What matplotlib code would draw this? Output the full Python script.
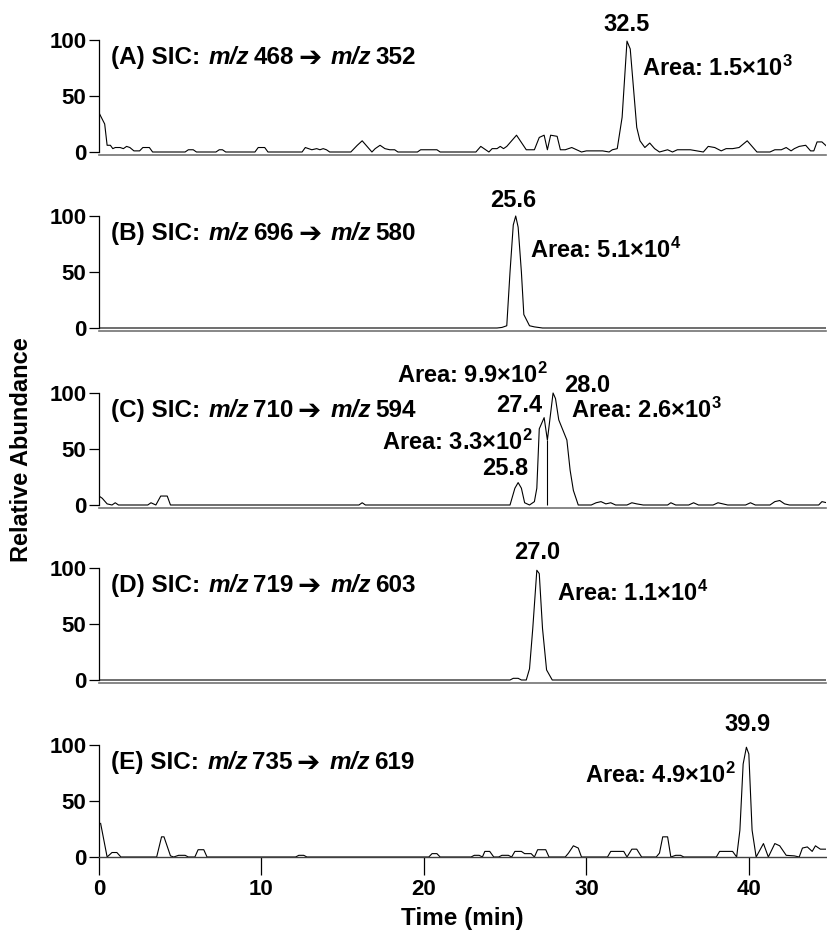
import matplotlib
matplotlib.use("Agg")
import matplotlib.pyplot as plt

plt.rcParams['font.family'] = ['Liberation Sans', 'DejaVu Sans']
plt.rcParams['font.weight'] = 'bold'
plt.rcParams['mathtext.fontset'] = 'custom'
plt.rcParams['mathtext.rm'] = 'Liberation Sans:bold'
plt.rcParams['mathtext.it'] = 'Liberation Sans:italic:bold'
plt.rcParams['mathtext.bf'] = 'Liberation Sans:bold'

# chromatogram traces (time in min, relative abundance)
a_t = [0, 0.35, 0.5, 0.7, 0.85, 1.0, 1.3, 1.5, 1.7, 1.9, 2.15, 2.5, 2.7, 3.1, 3.3,
       5.3, 5.5, 5.8, 6.0, 7.2, 7.4, 7.6, 7.8, 9.6, 9.8, 10.2, 10.4,
       12.5, 12.7, 12.9, 13.1, 13.4, 13.6, 13.8, 14.0, 14.2,
       15.5, 15.9, 16.2, 16.5, 16.8, 17.0, 17.3, 17.6, 17.9, 18.2, 18.4,
       19.6, 19.8, 20.8, 21.0, 23.2, 23.5, 23.8, 24.0, 24.2, 24.5, 24.7, 24.9, 25.1,
       25.7, 26.3, 26.8, 27.1, 27.4, 27.6, 27.8, 28.2, 28.4, 28.7, 29.1, 29.4, 29.7,
       30.0, 31.0, 31.4, 31.6, 31.9, 32.2, 32.5, 32.7, 32.9, 33.1, 33.3, 33.6, 33.9,
       34.2, 34.5, 35.0, 35.3, 35.6, 36.4, 36.8, 37.2, 37.5, 37.9, 38.3, 38.6, 39.0,
       39.4, 39.9, 40.5, 41.3, 41.6, 42.0, 42.3, 42.6, 42.8, 43.1, 43.5, 43.8, 44.0,
       44.2, 44.5, 44.8]
a_y = [35, 25, 6, 6, 3, 4, 4, 3, 5, 4, 1, 1, 4, 4, 0,
       0, 2, 2, 0, 0, 2, 2, 0, 0, 4, 4, 0,
       0, 4, 3, 2, 3, 2, 3, 2, 0,
       0, 6, 10, 5, 0, 3, 6, 3, 2, 2, 0,
       0, 2, 2, 0, 0, 5, 2, 0, 3, 3, 5, 3, 5,
       15, 2, 2, 13, 15, 2, 15, 14, 2, 2, 4, 2, 0,
       1, 1, 0, 2, 3, 31, 99, 92, 57, 22, 10, 4, 8,
       3, 0, 2, 0, 2, 2, 1, 0, 5, 4, 1, 3, 3,
       4, 10, 0, 0, 2, 2, 4, 1, 3, 5, 6, 1, 1,
       9, 9, 5]

b_t = [0, 24.5, 24.8, 25.1, 25.3, 25.5, 25.65, 25.8, 26.0, 26.15, 26.5, 26.8, 27.3, 44.8]
b_y = [0, 0, 0.5, 2, 50, 92, 100, 90, 50, 12, 2, 1, 0, 0]

c_t = [0, 0.2, 0.5, 0.8, 1.0, 1.2, 3.0, 3.2, 3.5, 3.8, 4.2, 4.4, 16.0, 16.2, 16.4,
       25.3, 25.6, 25.8, 26.0, 26.2, 26.5, 26.8, 26.95, 27.1, 27.4, 27.6, 27.95, 28.1,
       28.3, 28.8, 29.0, 29.2, 29.5,
       30.3, 30.6, 30.9, 31.2, 31.5, 31.8, 32.5, 32.8, 33.1, 33.5, 35.0, 35.2, 35.5,
       36.3, 36.6, 36.9, 37.8, 38.1, 38.4, 38.7, 39.8, 40.1, 40.4, 41.3, 41.6, 41.9,
       42.2, 42.5, 44.3, 44.5, 44.8]
c_y = [8, 6, 1, 0, 2, 0, 0, 2, 0, 8, 8, 0, 0, 2, 0,
       0, 15, 20, 15, 2, 0, 3, 15, 68, 78, 58, 100, 95,
       76, 58, 31, 13, 0,
       0, 2, 3, 1, 2, 0, 0, 2, 1, 0, 0, 2, 0,
       0, 2, 0, 0, 2, 1, 0, 0, 2, 0, 0, 3, 4,
       1, 0, 0, 3, 2]
c_split = 27.6  # drop line between 27.4 and 28.0

d_t = [0, 25.3, 25.5, 25.8, 26.0, 26.3, 26.5, 26.7, 26.95, 27.1, 27.3, 27.55, 27.9, 44.8]
d_y = [0, 0, 1.5, 1.5, 0, 0, 10, 46, 98, 95, 46, 9, 0, 0]

e_t = [0.1, 0.5, 0.8, 1.1, 1.35, 3.55, 3.85, 4.0, 4.4, 4.6, 4.9, 5.3, 5.5, 5.9, 6.1,
       6.45, 6.65, 12.1, 12.3, 12.6, 12.8, 20.3, 20.5, 20.8, 21.0, 22.9, 23.1, 23.4,
       23.6, 23.75, 24.05, 24.3, 24.6, 24.8, 25.2, 25.4, 25.6, 26.0, 26.2, 26.6, 26.8,
       27.0, 27.5, 27.7, 28.7, 28.9, 29.2, 29.5, 29.7, 31.3, 31.5, 32.3, 32.5, 32.8,
       33.1, 33.4, 34.3, 34.5, 34.7, 35.0, 35.2, 35.5, 35.8, 36.0, 38.0, 38.2, 39.0,
       39.25, 39.45, 39.65, 39.85, 40.0, 40.2, 40.45, 40.9, 41.2, 41.6, 41.9, 42.3,
       42.8, 43.1, 43.3, 43.6, 43.9, 44.1, 44.4, 44.8]
e_y = [30, 0, 4, 4, 0, 0, 18, 18, 1, 0, 1.5, 1.5, 0, 0, 6.5,
       6.5, 0, 0, 1.5, 1.5, 0, 0, 3, 3, 0, 0, 1.5, 1.5,
       0, 5, 5, 0, 0, 1.5, 1.5, 0, 5, 5, 3, 3, 0,
       6.5, 6.5, 0, 0, 3.5, 10, 8, 0, 0, 5, 5, 0, 7,
       7, 0, 0, 3.5, 18, 18, 0, 1.5, 1.5, 0, 0, 5, 5,
       0, 24, 83, 98, 92, 24, 0, 12, 0, 12, 10, 1.5,
       1, 0, 8, 9, 5, 10, 7, 7]

panel_ids = ['(A)', '(B)', '(C)', '(D)', '(E)']
precursors = ['468', '696', '710', '719', '735']
products = ['352', '580', '594', '603', '619']

# (text, x, y, ha)
notes = [
    [('32.5', 32.5, 114, 'center'), (r'Area: 1.5$\times$10$^3$', 33.4, 75, 'left')],
    [('25.6', 25.5, 114, 'center'), (r'Area: 5.1$\times$10$^4$', 26.5, 69, 'left')],
    [(r'Area: 9.9$\times$10$^2$', 27.6, 116, 'right'), ('28.0', 28.6, 107, 'left'),
     ('27.4', 27.3, 89, 'right'), (r'Area: 2.6$\times$10$^3$', 29.05, 85, 'left'),
     (r'Area: 3.3$\times$10$^2$', 26.7, 56, 'right'), ('25.8', 26.4, 33, 'right')],
    [('27.0', 27.0, 114, 'center'), (r'Area: 1.1$\times$10$^4$', 28.2, 77, 'left')],
    [('39.9', 39.9, 118, 'center'), (r'Area: 4.9$\times$10$^2$', 39.2, 73, 'right')],
]

traces = [(a_t, a_y), (b_t, b_y), (c_t, c_y), (d_t, d_y), (e_t, e_y)]


def title_chain(ax, x, y, pieces):
    # pieces: (text, style, family, size, gap in points before the piece)
    prev = None
    for txt, style, fam, size, gap in pieces:
        kw = dict(fontsize=size, fontstyle=style, va='center', ha='left')
        if fam:
            kw['family'] = fam
        if prev is None:
            prev = ax.text(x, y, txt, **kw)
        else:
            prev = ax.annotate(txt, xy=(1, y), xycoords=(prev, ax.transData),
                               xytext=(gap, 0), textcoords='offset points', **kw)


W, H = 827, 941
fig = plt.figure(figsize=(W / 100, H / 100), dpi=100)

base_px = [152, 328, 505, 680, 857]   # pixel row of zero line
ppu = 1.12                            # pixels per abundance unit
y_lo, y_hi = -5, 115
left, right = 99, 826

for i, (t, y) in enumerate(traces):
    b = base_px[i]
    top = b - y_hi * ppu
    bot = b - y_lo * ppu
    ax = fig.add_axes([left / W, 1 - bot / H, (right - left) / W, (bot - top) / H])
    ax.plot(t, y, color='black', lw=0.8)
    if i == 2:
        ax.vlines(c_split, 0, c_y[c_t.index(c_split)], color='black', lw=0.8)
    ax.set_xlim(0, 44.75)
    ax.set_ylim(y_lo, y_hi)
    ax.patch.set_alpha(0)
    for s in ['top', 'right']:
        ax.spines[s].set_visible(False)
    ax.spines['left'].set_bounds(0, 100)
    ax.spines['left'].set_linewidth(0.9)
    ax.set_yticks([0, 50, 100])
    ax.tick_params(axis='y', length=7, width=0.9, labelsize=16, pad=2)
    if i < 4:
        ax.spines['bottom'].set_position(('data', -2.5))
        ax.spines['bottom'].set_color('0.45')
        ax.spines['bottom'].set_linewidth(1.2)
        ax.set_xticks([])
    else:
        ax.spines['bottom'].set_position(('data', 0))
        ax.spines['bottom'].set_color('0.25')
        ax.spines['bottom'].set_linewidth(1.0)
        ax.set_xticks([0, 10, 20, 30, 40])
        ax.tick_params(axis='x', length=13, width=0.9, labelsize=16, pad=3)

    title_chain(ax, 0.74, 84, [
        (panel_ids[i] + ' SIC:', 'normal', None, 17.5, 0),
        ('m/z', 'italic', None, 17.5, 6),
        (precursors[i], 'normal', None, 17.5, 3),
        ('➔', 'normal', ['DejaVu Sans'], 20, 3),
        ('m/z', 'italic', None, 17.5, 7),
        (products[i], 'normal', None, 17.5, 3),
    ])
    for txt, x, yy, ha in notes[i]:
        ax.text(x, yy, txt, fontsize=17, va='center', ha=ha)

fig.text(22 / W, 1 - 450 / H, 'Relative Abundance', rotation=90,
         fontsize=17, va='center', ha='center')
fig.text(462 / W, 1 - 918 / H, 'Time (min)', fontsize=17.5, va='center', ha='center')

fig.savefig('out.png', dpi=100)
